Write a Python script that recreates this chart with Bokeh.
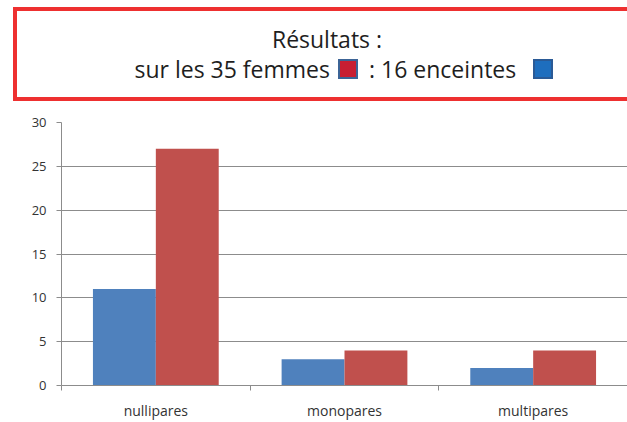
from bokeh.plotting import figure
from bokeh.layouts import column
from bokeh.models import Range1d, FixedTicker, ColumnDataSource, Div
from bokeh.embed import file_html
from bokeh.resources import INLINE

# ---- data ----
categories = ["nullipares", "monopares", "multipares"]
enceintes = [11, 3, 2]      # blue series
femmes = [27, 4, 4]         # red series
y_ticks = [0, 5, 10, 15, 20, 25, 30]

title_line1 = "Résultats :"
title_line2a = "sur les 35 femmes"
title_line2b = ": 16 enceintes"

BLUE = "#4F81BD"
RED = "#C0504D"
GRID = "#8C8C8C"
FONT = "Open Sans"
TXT = "#1E1E1E"

W = 627
TITLE_H = 114
CHART_H = 308

# ---- title box (HTML) ----
txt_style = ("position:absolute; font-family:'Open Sans'; font-size:23px; "
             "line-height:23px; color:%s; white-space:nowrap;" % TXT)
html = f"""
<div style="position:relative; width:{W}px; height:{TITLE_H}px; overflow:hidden; background:white;">
  <div style="position:absolute; left:13px; top:7px; width:{W - 13}px; height:94px;
              box-sizing:border-box; border:4px solid #EE3030; border-right:none;"></div>
  <div style="{txt_style} left:327px; top:28px; transform:translateX(-50%);">{title_line1}</div>
  <div style="{txt_style} right:{W - 330}px; top:58px;">{title_line2a}</div>
  <div style="position:absolute; left:338px; top:59px; width:20px; height:20px;
              box-sizing:border-box; background:#C81E32; border:2px solid #3C6496;"></div>
  <div style="{txt_style} left:369px; top:58px;">{title_line2b}</div>
  <div style="position:absolute; left:533px; top:59px; width:20px; height:20px;
              box-sizing:border-box; background:#1E6EBE; border:2px solid #2A5A96;"></div>
</div>
"""
title_div = Div(text=html, width=W, height=TITLE_H, margin=0)

# ---- chart ----
idx = list(range(len(categories)))
src = ColumnDataSource(dict(
    cat=categories,
    blue_x=[i + 1 / 3 for i in idx],
    red_x=[i + 2 / 3 for i in idx],
    enceintes=enceintes,
    femmes=femmes,
))

p = figure(width=W, height=CHART_H, x_range=Range1d(0, len(categories)),
           y_range=Range1d(0, 30), output_backend="svg", toolbar_location=None,
           min_border_left=61, min_border_right=0, min_border_top=8,
           min_border_bottom=37, margin=0)
p.outline_line_color = None
p.background_fill_color = "white"

p.vbar(x="blue_x", top="enceintes", width=1 / 3, source=src, fill_color=BLUE,
       line_color=None)
p.vbar(x="red_x", top="femmes", width=1 / 3, source=src, fill_color=RED,
       line_color=None)

# x axis: labels at centers, tick marks at category boundaries
p.xaxis.ticker = FixedTicker(ticks=[i + 0.5 for i in idx],
                             minor_ticks=list(range(len(categories) + 1)))
p.xaxis.major_label_overrides = {i + 0.5: c for i, c in zip(idx, categories)}
p.xaxis.major_tick_line_color = None
p.xaxis.major_tick_out = 0
p.xaxis.major_tick_in = 0
p.xaxis.minor_tick_out = 5
p.xaxis.minor_tick_in = 0
p.xaxis.minor_tick_line_color = GRID
p.xaxis.axis_line_color = GRID
p.xaxis.major_label_standoff = 10
p.xaxis.major_label_text_line_height = 1.0
p.xaxis.major_label_text_font = FONT
p.xaxis.major_label_text_font_size = "14px"
p.xaxis.major_label_text_color = "#333333"

# y axis
p.yaxis.ticker = FixedTicker(ticks=y_ticks)
p.yaxis.major_tick_out = 5
p.yaxis.major_tick_in = 0
p.yaxis.minor_tick_line_color = None
p.yaxis.major_tick_line_color = GRID
p.yaxis.axis_line_color = GRID
p.yaxis.major_label_standoff = 10
p.yaxis.major_label_text_font = FONT
p.yaxis.major_label_text_font_size = "13px"
p.yaxis.major_label_text_color = "#333333"

p.xgrid.visible = False
p.ygrid.ticker = FixedTicker(ticks=y_ticks)
p.ygrid.grid_line_color = GRID
p.ygrid.grid_line_width = 1

layout = column(title_div, p, spacing=0)

open("out.html", "w").write(file_html(layout, INLINE))
